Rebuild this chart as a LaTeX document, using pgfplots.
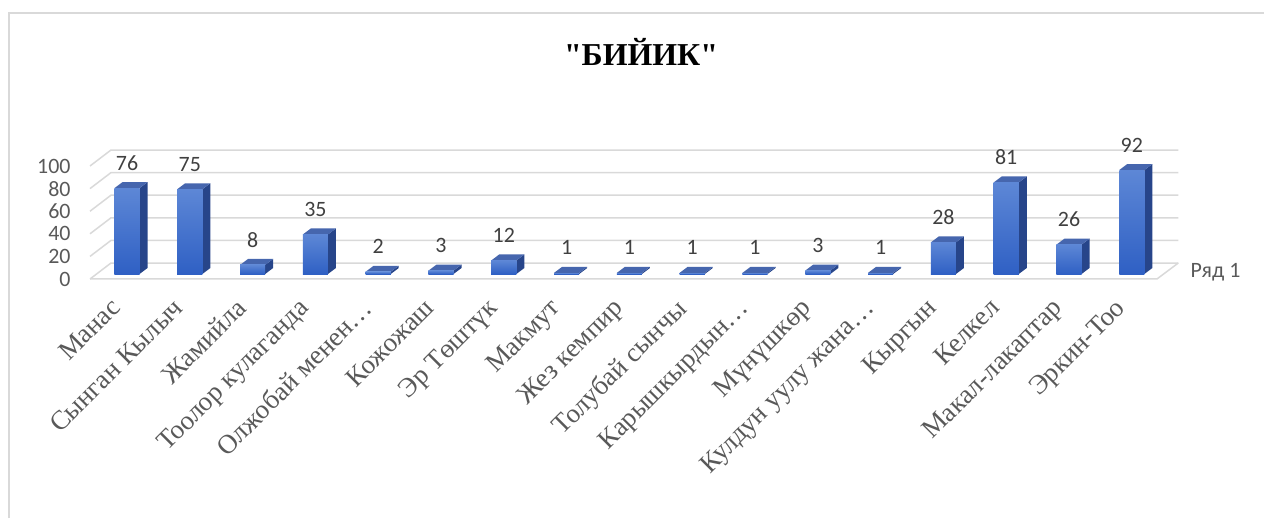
\documentclass[border=0pt]{standalone}
\usepackage{pgfplots}
\usepackage{pgfplotstable}
\pgfplotsset{compat=1.18}
\usepackage{fontspec}
\setmainfont{Liberation Serif}
\newfontfamily\titlefont{Liberation Serif}
\newfontfamily\calibri{Carlito}

\definecolor{frontTop}{HTML}{5D87D6}
\definecolor{frontBot}{HTML}{2F60C4}
\definecolor{sideBlue}{HTML}{27458A}
\definecolor{topBlue}{HTML}{4666AE}
\definecolor{gridGray}{HTML}{D9D9D9}
\definecolor{txtGray}{HTML}{595959}
\definecolor{lblGray}{HTML}{404040}

\pgfplotstableread{
idx val
0 76
1 75
2 8
3 35
4 2
5 3
6 12
7 1
8 1
9 1
10 1
11 3
12 1
13 28
14 81
15 26
16 92
}\data

\def\bw{0.2}    % half bar width
\def\dx{0.127}  % bar depth, x
\def\dy{5.3}    % bar depth, y

\begin{document}
\begin{tikzpicture}
\begin{axis}[
  x=62.8bp, y=1.13bp,
  xmin=-0.589, xmax=16.74, ymin=-8, ymax=110,
  clip=false,
  axis line style={draw=none},
  major tick length=0pt,
  xtick={0,...,16},
  xticklabels={Манас,Сынган Кылыч,Жамийла,Тоолор кулаганда,Олжобай менен…,Кожожаш,Эр Төштүк,Макмут,Жез кемпир,Толубай сынчы,Карышкырдын…,Мүнүшкөр,Кулдун уулу жана…,Кыргын,Келкел,Макал-лакаптар,Эркин-Тоо},
  xticklabel style={xshift=-18bp, yshift=-9bp, rotate=45, anchor=north east,
    font=\fontsize{27}{27}\selectfont, text=txtGray},
  ytick={0,20,...,100},
  yticklabel style={yshift=-5bp, xshift=-16bp,
    font=\calibri\fontsize{22}{22}\selectfont, text=txtGray},
  /pgf/number format/assume math mode=true,
]
  % walls
  \pgfplotsforeachungrouped \g in {0,20,...,100}{
    \pgfmathsetmacro\ga{\g-4.42}
    \pgfmathsetmacro\gb{\g+9.73}
    \edef\cmd{\noexpand\addplot[gridGray, line width=1.5bp] coordinates {(-0.589,\ga) (-0.255,\gb) (16.74,\gb)};}
    \cmd
  }
  \addplot[gridGray, line width=1.5bp] coordinates {(-0.589,-4.42) (16.40,-4.42) (16.74,9.73)};

  % bars
  \pgfplotsforeachungrouped \i in {0,...,16}{
    \pgfplotstablegetelem{\i}{val}\of\data
    \let\v\pgfplotsretval
    \pgfmathsetmacro\xl{\i-\bw}
    \pgfmathsetmacro\xr{\i+\bw}
    \pgfmathsetmacro\xlb{\i-\bw+\dx}
    \pgfmathsetmacro\xrb{\i+\bw+\dx}
    \pgfmathsetmacro\vb{\v+\dy}
    \edef\cmd{%
      \noexpand\addplot[draw=none, fill=sideBlue] coordinates {(\xr,0) (\xr,\v) (\xrb,\vb) (\xrb,\dy)};
      \noexpand\addplot[draw=none, fill=topBlue] coordinates {(\xl,\v) (\xr,\v) (\xrb,\vb) (\xlb,\vb)};
      \noexpand\addplot[draw=none, top color=frontTop, bottom color=frontBot] coordinates {(\xl,0) (\xl,\v) (\xr,\v) (\xr,0)};
    }\cmd
  }

  % data labels
  \addplot[draw=none, mark=none, nodes near coords,
    every node near coord/.append style={anchor=center, yshift=25bp,
      font=\calibri\fontsize{22}{22}\selectfont, text=lblGray}]
    table[x=idx, y=val]{\data};

  \node[anchor=west, font=\calibri\fontsize{22}{22}\selectfont, text=txtGray]
    at (axis cs:16.88,1.8) {Ряд 1};
  \node[font=\titlefont\bfseries\fontsize{32}{32}\selectfont]
    at (axis cs:8.185,196.5) {"БИЙИК"};

  \coordinate (pgtl) at (axis cs:-2.0223,242.48);
  \coordinate (pgbr) at (axis cs:18.105,-215.93);
  \coordinate (frtl) at (axis cs:-1.879,230.97);
\end{axis}
\pgfresetboundingbox
\useasboundingbox (pgtl) rectangle (pgbr);
\draw[gridGray, line width=1.5bp] (frtl |- pgbr) -- (frtl) -- (frtl -| pgbr);
\end{tikzpicture}
\end{document}
